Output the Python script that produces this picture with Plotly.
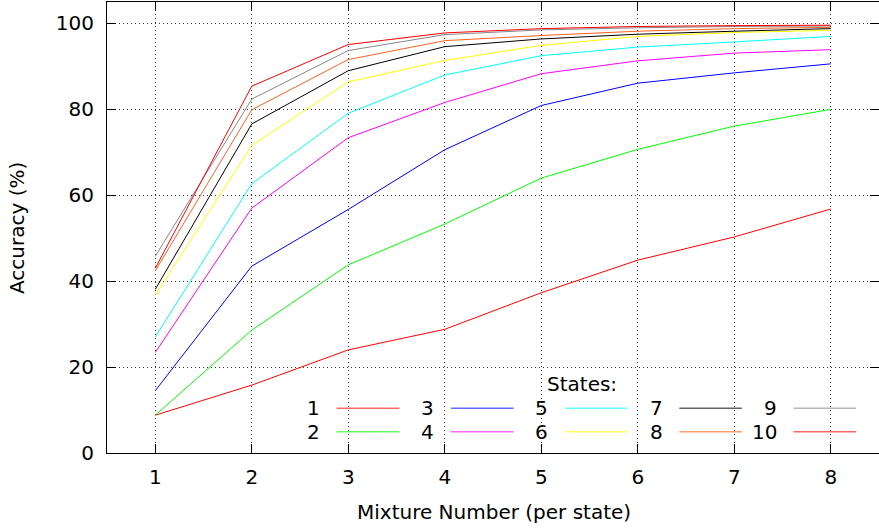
import plotly.graph_objects as go

# ---- data ----
mixtures = [1, 2, 3, 4, 5, 6, 7, 8]
state_names = ["1", "2", "3", "4", "5", "6", "7", "8", "9", "10"]
acc_s1 = [8.8, 15.8, 24.0, 28.8, 37.3, 44.9, 50.3, 56.8]
acc_s2 = [8.8, 28.6, 43.8, 53.3, 64.0, 70.7, 76.1, 80.0]
acc_s3 = [14.5, 43.5, 56.7, 70.6, 80.9, 86.1, 88.5, 90.6]
acc_s4 = [23.4, 57.0, 73.4, 81.6, 88.3, 91.3, 93.1, 93.9]
acc_s5 = [27.0, 62.7, 79.1, 88.0, 92.5, 94.5, 95.7, 97.0]
acc_s6 = [36.7, 71.6, 86.4, 91.4, 94.9, 97.0, 97.9, 98.4]
acc_s7 = [38.1, 76.6, 89.0, 94.6, 96.4, 97.5, 98.2, 98.8]
acc_s8 = [42.4, 79.9, 91.6, 96.0, 97.2, 98.2, 98.8, 99.1]
acc_s9 = [45.8, 82.4, 93.7, 97.4, 98.5, 99.0, 99.3, 99.4]
acc_s10 = [43.0, 85.4, 95.1, 97.8, 98.8, 99.3, 99.5, 99.6]
series = [acc_s1, acc_s2, acc_s3, acc_s4, acc_s5, acc_s6, acc_s7, acc_s8, acc_s9, acc_s10]
y_ticks = [0, 20, 40, 60, 80, 100]

colors = ["#ff0000", "#00ff00", "#0000ff", "#ff00ff", "#00ffff",
          "#ffff00", "#000000", "#ff6020", "#888888", "#ff0000"]

FONT = "DejaVu Sans"
W, H = 879, 529
ML, MR, MT, MB = 107, 0, 2, 76
PW = W - ML - MR
PH = H - MT - MB

def px_x(px):
    return (px - ML) / PW

def px_y(py):
    return (H - MB - py) / PH

fig = go.Figure()
for name, vals, col in zip(state_names, series, colors):
    fig.add_trace(go.Scatter(x=mixtures, y=vals, mode="lines", name=name,
                             line=dict(color=col, width=1), showlegend=False))

annotations = []
shapes = []
# custom gnuplot-style legend
annotations.append(dict(text="States:", x=px_x(582), y=px_y(384), xref="paper", yref="paper",
                        xanchor="center", yanchor="middle", showarrow=False,
                        font=dict(family=FONT, size=20, color="black")))
row_y = [408.3, 431.7]
for i, (name, col) in enumerate(zip(state_names, colors)):
    c, r = divmod(i, 2)
    lab_right = 322 + c * 114.2
    ly = row_y[r]
    annotations.append(dict(text=name, x=px_x(lab_right), y=px_y(ly), xref="paper", yref="paper",
                            xanchor="right", yanchor="middle", showarrow=False,
                            font=dict(family=FONT, size=20, color="black")))
    shapes.append(dict(type="line", xref="paper", yref="paper",
                       x0=px_x(lab_right + 14.7), x1=px_x(lab_right + 77.3),
                       y0=px_y(ly), y1=px_y(ly), line=dict(color=col, width=1.5),
                       opacity=0.6))

# axis titles
annotations.append(dict(text="Mixture Number (per state)", x=px_x(494), y=px_y(511.7),
                        xref="paper", yref="paper", xanchor="center", yanchor="middle",
                        showarrow=False, font=dict(family=FONT, size=20, color="black")))
annotations.append(dict(text="Accuracy (%)", x=px_x(17), y=px_y(228), textangle=-90,
                        xref="paper", yref="paper", xanchor="center", yanchor="middle",
                        showarrow=False, font=dict(family=FONT, size=20, color="black")))

axis_common = dict(showline=True, linecolor="black", linewidth=1, mirror="ticks",
                   ticks="inside", ticklen=9, tickcolor="black", tickwidth=1,
                   showgrid=True, gridcolor="#333333", gridwidth=1, griddash="1px,3px",
                   zeroline=False, tickfont=dict(family=FONT, size=20, color="black"))

fig.update_layout(
    width=W, height=H,
    margin=dict(l=ML, r=MR, t=MT, b=MB),
    plot_bgcolor="white", paper_bgcolor="white",
    xaxis=dict(range=[0.5, 8.5], tickvals=mixtures, ticklabelstandoff=6, **axis_common),
    yaxis=dict(range=[0, 105], tickvals=y_ticks, ticklabelstandoff=8, **axis_common),
    annotations=annotations,
    shapes=shapes,
    font=dict(family=FONT, size=20, color="black"),
)

fig.write_html("out.html", config={"displayModeBar": False},
               post_script="document.body.style.margin='0';document.body.style.overflow='hidden';")
